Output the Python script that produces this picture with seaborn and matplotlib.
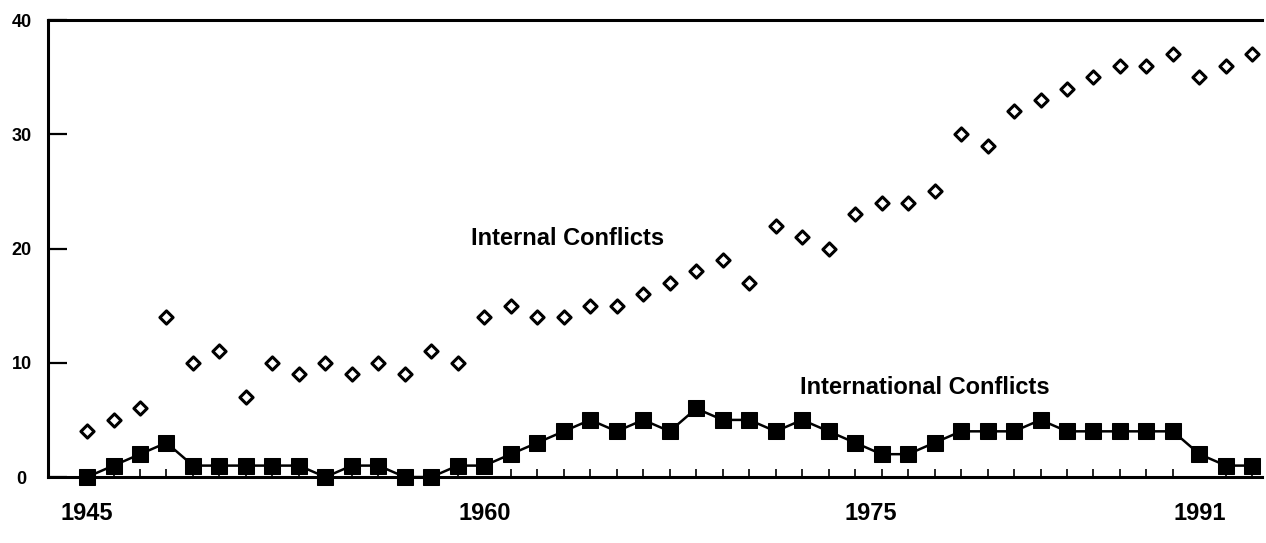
import matplotlib
matplotlib.use("Agg")
import matplotlib.pyplot as plt
import seaborn as sns
import pandas as pd

# -------------------------
# Data
# -------------------------
years = list(range(1945, 1990))
internal = [4, 5, 6, 14, 10, 11, 7, 10, 9, 10, 9, 10, 9, 11, 10,
            14, 15, 14, 14, 15, 15, 16, 17, 18, 19, 17, 22, 21, 20, 23,
            24, 24, 25, 30, 29, 32, 33, 34, 35, 36, 36, 37, 35, 36, 37]
international = [0, 1, 2, 3, 1, 1, 1, 1, 1, 0, 1, 1, 0, 0, 1,
                 1, 2, 3, 4, 5, 4, 5, 4, 6, 5, 5, 4, 5, 4, 3,
                 2, 2, 3, 4, 4, 4, 5, 4, 4, 4, 4, 4, 2, 1, 1]

y_ticks = [0, 10, 20, 30, 40]
x_tick_labels = ["1945", "1960", "1975", "1991"]
x_tick_pos = [1945, 1960, 1974.6, 1987]

sns.set_theme(style="white")
plt.rcParams["font.family"] = ["Liberation Sans", "DejaVu Sans"]
plt.rcParams["text.color"] = "black"

df = pd.DataFrame({"year": years, "internal": internal, "international": international})

fig = plt.figure(figsize=(12.66, 5.43), dpi=100)
ax = fig.add_axes([0.038, 0.1215, 0.959, 0.8415])

sns.lineplot(data=df, x="year", y="international", marker="s", markersize=11,
             color="black", linewidth=1.8, markeredgecolor="black", clip_on=False, ax=ax)
sns.scatterplot(data=df, x="year", y="internal", marker="D", s=45,
                color="white", edgecolor="black", linewidth=2.2, clip_on=False, ax=ax)

ax.set_xlim(1943.53, 1989.37)
ax.set_ylim(0, 40)
ax.set_xlabel("")
ax.set_ylabel("")

for side in ["left", "bottom", "top"]:
    ax.spines[side].set_color("black")
    ax.spines[side].set_linewidth(2.2)
ax.spines["right"].set_visible(False)

# y axis: long inward ticks, labels centred left of the spine
ax.set_yticks(y_ticks)
ax.set_yticklabels([str(v) for v in y_ticks], fontweight="bold", fontsize=13)
ax.tick_params(axis="y", direction="in", length=14, width=1.6, pad=19,
               colors="black", left=True)
for lab in ax.get_yticklabels():
    lab.set_ha("center")

# x axis: small inward tick at every year, a few year labels
ax.set_xticks(x_tick_pos)
ax.set_xticklabels(x_tick_labels, fontweight="bold", fontsize=17)
ax.set_xticks(years, minor=True)
ax.tick_params(axis="x", which="major", length=0, pad=18, colors="black")
ax.tick_params(axis="x", which="minor", direction="in", length=6, width=1.2,
               color="black", bottom=True)

ax.text(1959.5, 20.9, "Internal Conflicts", fontsize=17, fontweight="bold",
        va="center", color="black")
ax.text(1971.9, 7.8, "International Conflicts", fontsize=17, fontweight="bold",
        va="center", color="black")

plt.savefig("out.png", dpi=100)
plt.close()
